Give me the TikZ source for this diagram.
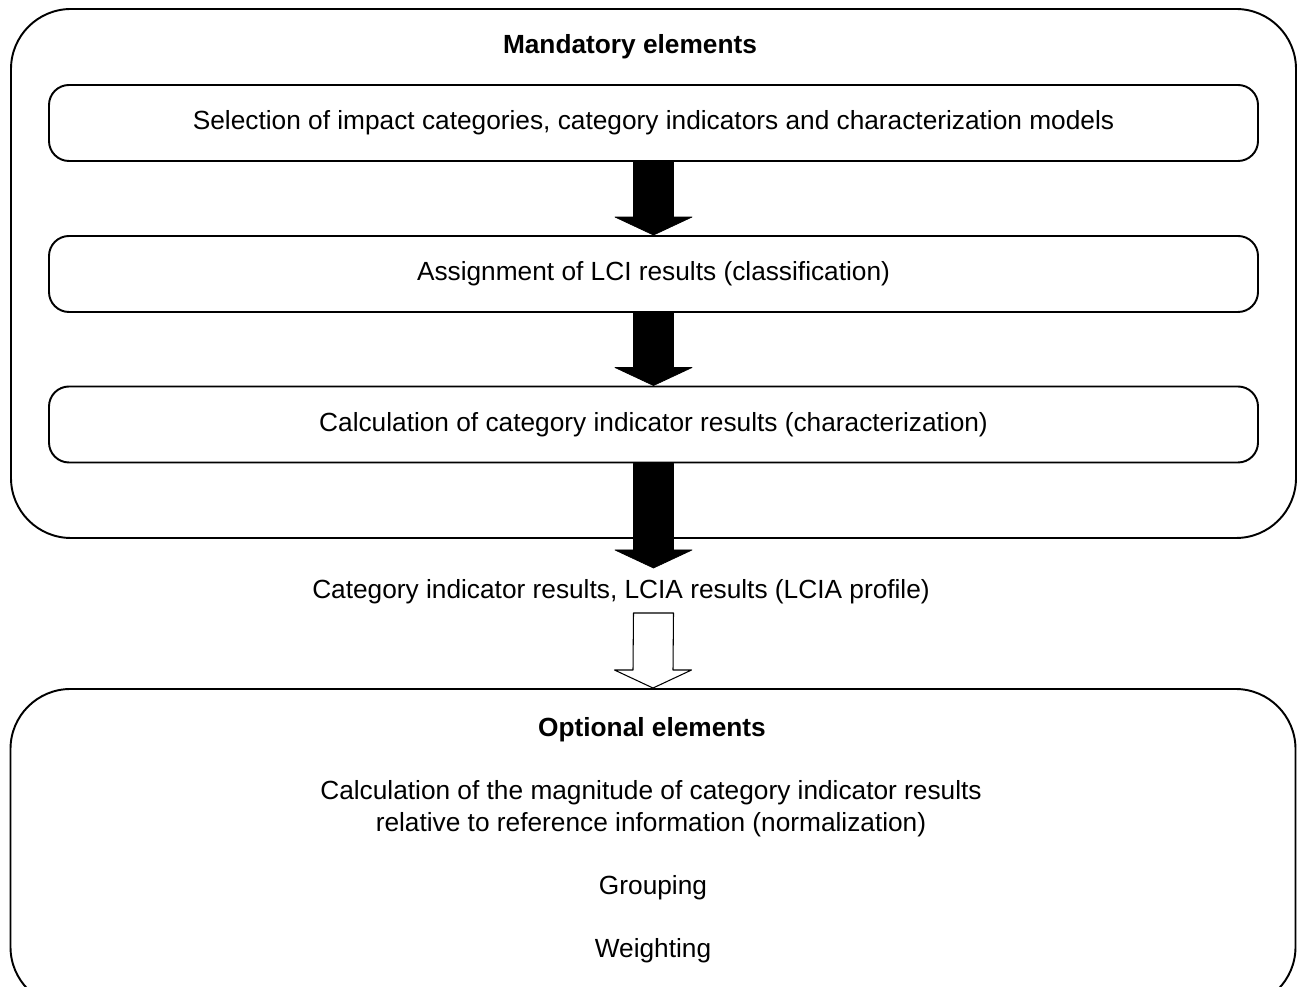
\documentclass[tikz,border=0pt]{standalone}
\usepackage{fontspec}
\setmainfont{Liberation Sans}
\usetikzlibrary{calc}

\newcommand{\blockarrow}[3]{%
  \draw[#1] ($(#2)+(-20,0)$) -- ($(#3)+(-20,18)$) -- ($(#3)+(-38.5,18)$) -- (#3)
    -- ($(#3)+(38.5,18)$) -- ($(#3)+(20,18)$) -- ($(#2)+(20,0)$) -- cycle;}

\begin{document}
\begin{tikzpicture}[line cap=round,line join=round,x=0.02cm,y=0.02cm,
    font=\fontsize{14.95pt}{18.1pt}\selectfont,
    bigbox/.style={draw,line width=1.1pt,rounded corners=1.2cm,minimum width=1285*0.02cm},
    stepbox/.style={draw,line width=1.1pt,rounded corners=0.4cm,fill=white,minimum width=1209*0.02cm,minimum height=76*0.02cm},
    solidarrow/.style={fill=black,draw=black,line width=0.4pt},
    openarrow/.style={fill=white,draw=black,line width=0.6pt}]
        \clip (0,0) rectangle (1299,987);
        % outer frames
        \node[bigbox,minimum height=529*0.02cm] (mand) at (653.5,713.5) {};
        \node[bigbox,minimum height=318*0.02cm] (opt) at (653,139) {};
        \node[font=\fontsize{14.95pt}{18.1pt}\selectfont\bfseries] (mandtitle) at (630,940) {Mandatory elements};
        \node[font=\fontsize{14.95pt}{18.1pt}\selectfont\bfseries] (opttitle) at (652,257) {Optional elements};
        % mandatory steps
        \node[stepbox] (select) at (653.5,864) {Selection of impact categories, category indicators and characterization models};
        \node[stepbox] (assign) at (653.5,713) {Assignment of LCI results (classification)};
        \node[stepbox] (calc) at (653.5,562.5) {Calculation of category indicator results (characterization)};
        \node (profile) at (621,395) {Category indicator results, LCIA results (LCIA profile)};
        \coordinate (profiletip) at (653.5,419);
        \coordinate (opentop) at (653.5,374);
        % optional steps
        \node[align=center] (norm) at (651,178) {Calculation of the magnitude of category indicator results\\relative to reference information (normalization)};
        \node (group) at (653,99) {Grouping};
        \node (weight) at (653,36) {Weighting};
        % arrows
        \blockarrow{solidarrow}{select.south}{assign.north}
        \blockarrow{solidarrow}{assign.south}{calc.north}
        \blockarrow{solidarrow}{calc.south}{profiletip}
        \blockarrow{openarrow}{opentop}{opt.north}
    \end{tikzpicture}
\end{document}
